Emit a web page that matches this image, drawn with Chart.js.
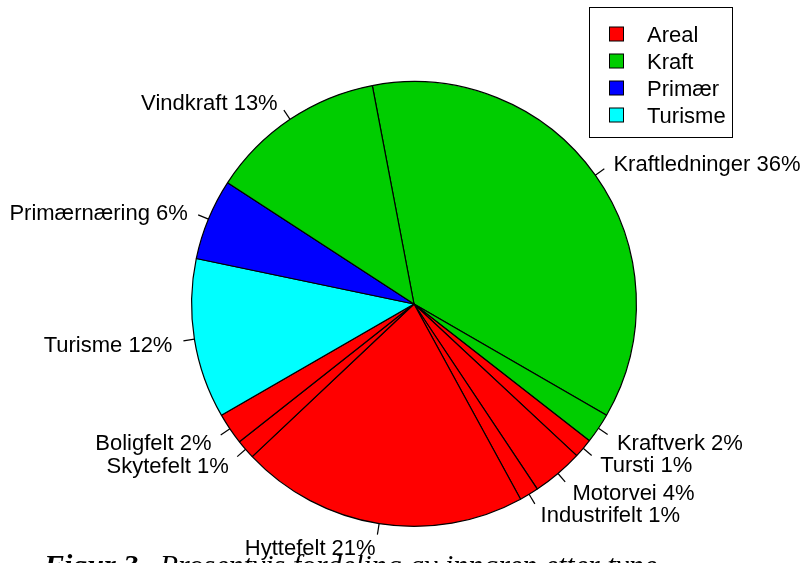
<!DOCTYPE html>
<html>
<head>
<meta charset="utf-8">
<script src="https://cdn.jsdelivr.net/npm/chart.js@4"></script>
<style>
  html, body { margin: 0; padding: 0; background: #fff; overflow: hidden; }
  #wrap { position: relative; width: 805px; height: 563px; overflow: hidden; }
  #caption {
    position: absolute; left: 44px; top: 548px; white-space: nowrap;
    font-family: "Liberation Serif", "DejaVu Serif", serif; font-style: italic; font-size: 30px;
  }
  #caption b { margin-right: 14px; }
</style>
</head>
<body>
<div id="wrap">
  <canvas id="pie" width="805" height="563"></canvas>
  <div id="caption"><b>Figur 3.</b>Prosentvis fordeling av inngrep etter type</div>
</div>
<script>
// slices in clockwise order, starting just left of 12 o'clock
const sliceLabels = ["Kraftledninger", "Kraftverk", "Tursti", "Motorvei", "Industrifelt", "Hyttefelt",
  "Skytefelt", "Boligfelt", "Turisme", "Primærnæring", "Vindkraft"];
const sliceValues = [36.3, 2.2, 1.4, 3.7, 1.4, 20.9, 1.4, 2.3, 11.6, 5.9, 12.8];
const sliceGroups = ["Kraft", "Kraft", "Areal", "Areal", "Areal", "Areal",
  "Areal", "Areal", "Turisme", "Primær", "Kraft"];

const groupNames = ["Areal", "Kraft", "Primær", "Turisme"];
const groupColors = ["#FF0000", "#00CD00", "#0000FF", "#00FFFF"];

const total = sliceValues.reduce((a, b) => a + b, 0);
const colorOf = (g) => groupColors[groupNames.indexOf(g)];
const FONT = '22px "Liberation Sans", Arial, sans-serif';

// tekst og streker utenfor sirkelen, som i R sin pie()
const pieLabels = {
  id: "pieLabels",
  afterDatasetsDraw(chart) {
    const ctx = chart.ctx;
    const arcs = chart.getDatasetMeta(0).data;
    ctx.save();
    ctx.font = FONT;
    ctx.fillStyle = "#000";
    ctx.strokeStyle = "#000";
    ctx.lineWidth = 1.2;
    ctx.textBaseline = "middle";
    arcs.forEach((arc, i) => {
      const p = arc.getProps(["x", "y", "startAngle", "endAngle", "outerRadius"], true);
      const mid = (p.startAngle + p.endAngle) / 2;
      const c = Math.cos(mid), s = Math.sin(mid);
      const r = p.outerRadius;
      ctx.beginPath();
      ctx.moveTo(p.x + r * c, p.y + r * s);
      ctx.lineTo(p.x + 1.05 * r * c, p.y + 1.05 * r * s);
      ctx.stroke();
      ctx.textAlign = c < 0 ? "right" : "left";
      const pct = Math.round(sliceValues[i] / total * 100);
      ctx.fillText(sliceLabels[i] + " " + pct + "%", p.x + 1.1 * r * c, p.y + 1.1 * r * s + 3);
    });
    ctx.restore();
  },
  afterDraw(chart) {
    // legend box top right
    const ctx = chart.ctx;
    ctx.save();
    ctx.strokeStyle = "#000";
    ctx.lineWidth = 1;
    ctx.strokeRect(589.5, 7.5, 143, 130);
    ctx.font = FONT;
    ctx.textBaseline = "middle";
    ctx.textAlign = "left";
    groupNames.forEach((g, i) => {
      const yc = 34 + i * 27;
      ctx.fillStyle = groupColors[i];
      ctx.fillRect(609.5, yc - 7, 14, 14);
      ctx.strokeRect(609.5, yc - 7, 14, 14);
      ctx.fillStyle = "#000";
      ctx.fillText(g, 647, yc + 2);
    });
    ctx.restore();
  }
};

new Chart(document.getElementById("pie"), {
  type: "pie",
  data: {
    labels: sliceLabels,
    datasets: [{
      data: sliceValues,
      backgroundColor: sliceGroups.map(colorOf),
      borderColor: "#000",
      borderWidth: 1.2,
    }],
  },
  options: {
    responsive: false,
    animation: false,
    rotation: -10.8,
    layout: { padding: { left: 191, right: 168, top: 81, bottom: 36 } },
    plugins: {
      legend: { display: false },
      tooltip: { enabled: false },
    },
  },
  plugins: [pieLabels],
});
</script>
</body>
</html>
